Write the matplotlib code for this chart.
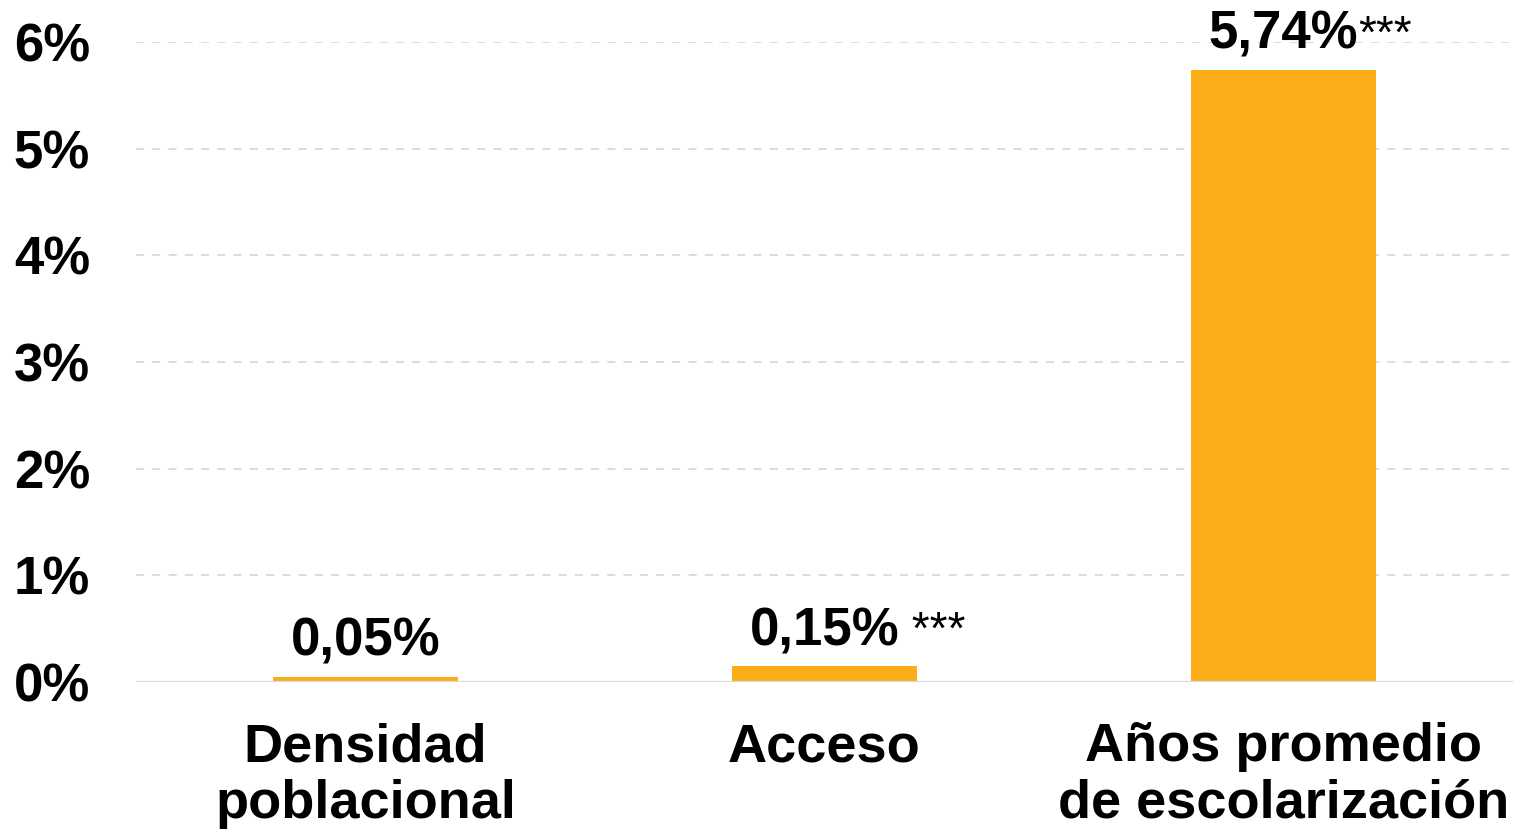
import matplotlib
matplotlib.use("Agg")
import matplotlib.pyplot as plt
from matplotlib.ticker import FuncFormatter

categories = ["Densidad\npoblacional", "Acceso", "Años promedio\nde escolarización"]
values = [0.05, 0.15, 5.74]
value_labels = ["0,05%", "0,15%", "5,74%"]
stars = ["", " ***", "***"]
yticks = [0, 1, 2, 3, 4, 5, 6]

plt.rcParams['font.family'] = ['Liberation Sans', 'DejaVu Sans']

fig = plt.figure(figsize=(15.13, 8.31), dpi=100)
ax = fig.add_axes([136/1513, 1 - 682/831, 1 - 136/1513, (682 - 42)/831])

bar_color = "#FBAE17"
x = list(range(len(categories)))
ax.bar(x, values, width=0.405, color=bar_color, zorder=3)

ax.set_xlim(-0.5, 2.5)
ax.set_ylim(0, 6)
ax.set_yticks(yticks)
ax.yaxis.set_major_formatter(FuncFormatter(lambda v, p: f"{int(v)}%"))
ax.set_xticks(x)
ax.set_xticklabels(categories, fontsize=39, fontweight='bold', linespacing=1.17)
for lab in ax.get_yticklabels():
    lab.set_fontsize(38)
    lab.set_fontweight('bold')
ax.tick_params(axis='y', length=0, pad=33)
ax.tick_params(axis='x', length=0, pad=29)

for yv in yticks[1:]:
    ax.axhline(yv, color="#d9d9d9", linewidth=1.3, linestyle=(0, (4.5, 4.5)), zorder=1)
ax.axhline(0, color="#d9d9d9", linewidth=1.6, zorder=4)

for s in ax.spines.values():
    s.set_visible(False)

for xi, v, lab, st in zip(x, values, value_labels, stars):
    t = ax.annotate(lab, xy=(xi, v), xytext=(0, 15), textcoords='offset points',
                    ha='center', va='baseline', fontsize=38, fontweight='bold',
                    annotation_clip=False, zorder=5)
    if st:
        ax.annotate(st, xy=(1, 0.93), xycoords=t, ha='left', va='top',
                    fontsize=33, fontweight='normal', annotation_clip=False, zorder=5)

fig.savefig("out.png", dpi=100)
